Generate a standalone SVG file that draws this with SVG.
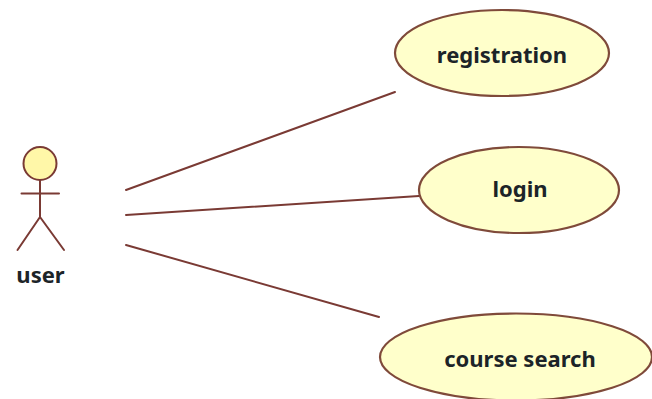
<svg xmlns="http://www.w3.org/2000/svg" width="652" height="399" viewBox="0 0 652 399">
<style>
.s{stroke:#7a3a34;fill:none;stroke-width:2;stroke-linecap:round}
.u{fill:#ffffcb;stroke:#7f4a3a;stroke-width:2.2}
.t{font-family:"Noto Sans","DejaVu Sans",sans-serif;font-weight:700;font-size:22px;fill:#1c2428;text-anchor:middle}
</style>
<rect width="652" height="399" fill="#ffffff"/>
<g id="connectors">
<line class="s" x1="126" y1="190" x2="395" y2="92"/>
<line class="s" x1="126" y1="215" x2="419" y2="196"/>
<line class="s" x1="126" y1="245" x2="379" y2="317"/>
</g>
<g id="actor-user">
<circle cx="40" cy="163.500" r="16.500" fill="#fff7a8" stroke="#7a3a34" stroke-width="2"/>
<path class="s" d="M40 180V217M21.500 193.500H59M40 217L17.500 250M40 217L64 250"/>
<text class="t" x="40.500" y="283">user</text>
</g>
<g id="usecase-registration">
<ellipse class="u" cx="502" cy="53" rx="107" ry="43"/>
<text class="t" x="502" y="62.500">registration</text>
</g>
<g id="usecase-login">
<ellipse class="u" cx="519" cy="190" rx="100" ry="43"/>
<text class="t" x="520" y="197">login</text>
</g>
<g id="usecase-course-search">
<ellipse class="u" cx="516" cy="357" rx="136" ry="43.500"/>
<text class="t" x="520" y="366.500">course search</text>
</g>
</svg>
